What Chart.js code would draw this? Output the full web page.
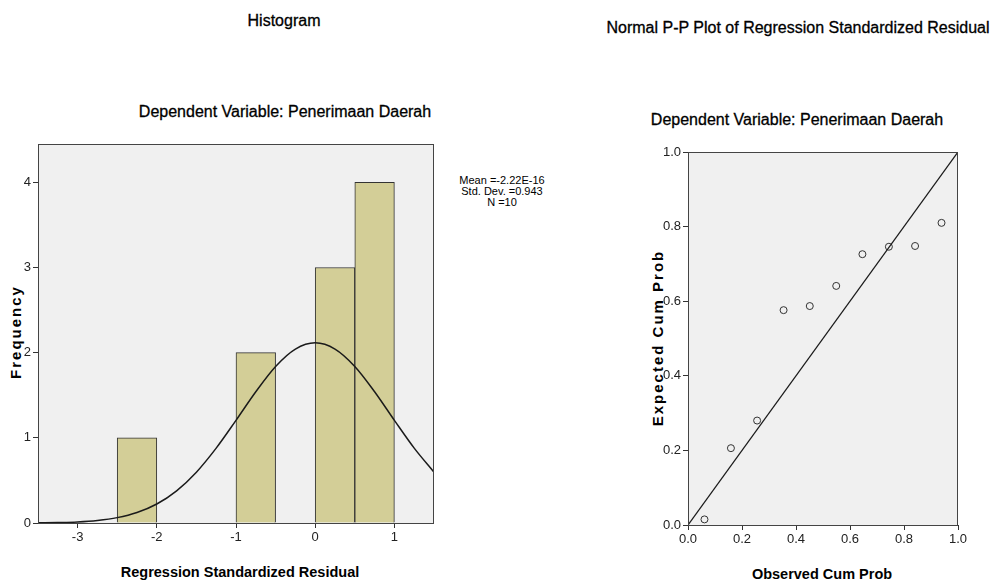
<!DOCTYPE html>
<html>
<head>
<meta charset="utf-8">
<script src="https://cdn.jsdelivr.net/npm/chart.js@4.4.1/dist/chart.umd.min.js"></script>
<style>
  body { margin: 0; background: #fff; width: 991px; height: 583px; position: relative; overflow: hidden;
         font-family: "Liberation Sans", Arial, sans-serif; color: #000; }
  .txt { position: absolute; white-space: nowrap; transform: translate(-50%, -50%); }
  .title { font-size: 16px; -webkit-text-stroke: 0.3px #000; }
  .axt { font-weight: bold; font-size: 14.5px; }
  .axv { font-weight: bold; font-size: 15px; letter-spacing: 2px; transform: translate(-50%, -50%) rotate(-90deg); }
  .stats { position: absolute; left: 502px; top: 175px; transform: translateX(-50%); font-size: 11px; line-height: 11px; text-align: center; }
  .box { position: absolute; }
</style>
</head>
<body>

<div class="txt title" style="left:284px; top:21px;">Histogram</div>
<div class="txt title" style="left:285px; top:112px;">Dependent Variable: Penerimaan Daerah</div>
<div class="stats" id="stats"></div>
<div class="txt axv" style="left:15px; top:332px;">Frequency</div>
<div class="txt axt" style="left:240px; top:572px;">Regression Standardized Residual</div>

<div class="txt title" style="left:798px; top:28px;">Normal P-P Plot of Regression Standardized Residual</div>
<div class="txt title" style="left:797px; top:120px;">Dependent Variable: Penerimaan Daerah</div>
<div class="txt axv" style="left:657px; top:338px;">Expected Cum Prob</div>
<div class="txt axt" style="left:822px; top:574px;">Observed Cum Prob</div>

<div class="box" style="left:0; top:130px;"><canvas id="histChart" width="450" height="453"></canvas></div>
<div class="box" style="left:620px; top:130px;"><canvas id="ppChart" width="371" height="453"></canvas></div>

<script>
// histogram (bins of 0.5)
var binCenters = [-2.25, -0.75, 0.25, 0.75];
var binCounts = [1, 2, 3, 4];

// normal curve
var curveX = [-3.5, -3.25, -3, -2.75, -2.5, -2.25, -2, -1.75, -1.5, -1.25, -1, -0.75, -0.5, -0.25, 0, 0.25, 0.5, 0.75, 1, 1.25, 1.5];
var curveY = [0.002, 0.006, 0.013, 0.030, 0.063, 0.123, 0.223, 0.378, 0.597, 0.879, 1.205, 1.541, 1.838, 2.042, 2.115, 2.042, 1.838, 1.541, 1.205, 0.879, 0.597];

var histXTicks = [-3, -2, -1, 0, 1];
var histYTicks = [0, 1, 2, 3, 4];
var statsLines = ['Mean =-2.22E-16', 'Std. Dev. =0.943', 'N =10'];

// P-P plot
var obsCumProb = [0.061, 0.159, 0.256, 0.354, 0.451, 0.549, 0.646, 0.744, 0.841, 0.939];
var expCumProb = [0.015, 0.206, 0.280, 0.576, 0.587, 0.641, 0.726, 0.746, 0.748, 0.810];
var refLine = [0, 1];
var ppTicks = [0, 0.2, 0.4, 0.6, 0.8, 1.0];

document.getElementById('stats').innerHTML = statsLines.join('<br>');

var tickFont = { family: '"Liberation Sans Narrow", "Liberation Sans", Arial, sans-serif', size: 13 };

// grey plot background + frame round the chart area
var framePlugin = {
  id: 'frame',
  beforeDraw: function (chart) {
    var a = chart.chartArea, ctx = chart.ctx;
    ctx.save();
    ctx.fillStyle = '#f0f0f0';
    ctx.fillRect(a.left, a.top, a.right - a.left, a.bottom - a.top);
    ctx.restore();
  },
  afterDraw: function (chart) {
    var a = chart.chartArea, ctx = chart.ctx;
    ctx.save();
    ctx.strokeStyle = '#444';
    ctx.lineWidth = 1;
    ctx.strokeRect(a.left + 0.5, a.top + 0.5, a.right - a.left - 1, a.bottom - a.top);
    ctx.restore();
  }
};

function fixedTicks(list) {
  return function (scale) {
    scale.ticks = list.map(function (v) { return { value: v }; });
  };
}

function axis(min, max, list, fmt, size, horiz) {
  return {
    type: 'linear',
    min: min,
    max: max,
    offset: false,
    afterBuildTicks: fixedTicks(list),
    afterFit: function (scale) {
      if (horiz) scale.height = size; else scale.width = size;
    },
    grid: { display: true, offset: false, drawOnChartArea: false, drawTicks: true, tickLength: 5, color: '#333' },
    border: { display: false },
    ticks: {
      font: tickFont,
      color: '#222',
      padding: 2,
      autoSkip: false,
      maxRotation: 0,
      callback: function (v) { return fmt(v); }
    }
  };
}

var histCtx = document.getElementById('histChart').getContext('2d');
var histChart = new Chart(histCtx, {
  type: 'bar',
  data: {
    datasets: [
      {
        type: 'line',
        data: curveX.map(function (x, i) { return { x: x, y: curveY[i] }; }),
        borderColor: '#1a1a1a',
        borderWidth: 1.5,
        pointRadius: 0,
        cubicInterpolationMode: 'monotone',
        fill: false,
        order: 0
      },
      {
        type: 'bar',
        data: binCenters.map(function (x, i) { return { x: x, y: binCounts[i] }; }),
        backgroundColor: '#d3ce97',
        borderColor: '#333',
        borderWidth: 1,
        barPercentage: 1,
        categoryPercentage: 1,
        order: 1
      }
    ]
  },
  options: {
    responsive: false,
    animation: false,
    layout: { padding: { left: 0, right: 16, top: 14, bottom: 0 } },
    plugins: { legend: { display: false }, tooltip: { enabled: false } },
    scales: {
      x: axis(-3.5, 1.5, histXTicks, function (v) { return String(v); }, 60, true),
      y: axis(0, 4.45, histYTicks, function (v) { return String(v); }, 38, false)
    }
  },
  plugins: [framePlugin]
});

var ppCtx = document.getElementById('ppChart').getContext('2d');
var ppChart = new Chart(ppCtx, {
  type: 'scatter',
  data: {
    datasets: [
      {
        type: 'line',
        data: refLine.map(function (v) { return { x: v, y: v }; }),
        borderColor: '#1a1a1a',
        borderWidth: 1.3,
        pointRadius: 0,
        fill: false
      },
      {
        data: obsCumProb.map(function (x, i) { return { x: x, y: expCumProb[i] }; }),
        pointStyle: 'circle',
        pointRadius: 3.5,
        pointBackgroundColor: 'rgba(0,0,0,0)',
        pointBorderColor: '#333',
        pointBorderWidth: 1
      }
    ]
  },
  options: {
    responsive: false,
    animation: false,
    layout: { padding: { left: 0, right: 33, top: 22, bottom: 0 } },
    plugins: { legend: { display: false }, tooltip: { enabled: false } },
    scales: {
      x: axis(0, 1, ppTicks, function (v) { return v.toFixed(1); }, 58, true),
      y: axis(0, 1, ppTicks, function (v) { return v.toFixed(1); }, 68, false)
    }
  },
  plugins: [framePlugin]
});
</script>
</body>
</html>
